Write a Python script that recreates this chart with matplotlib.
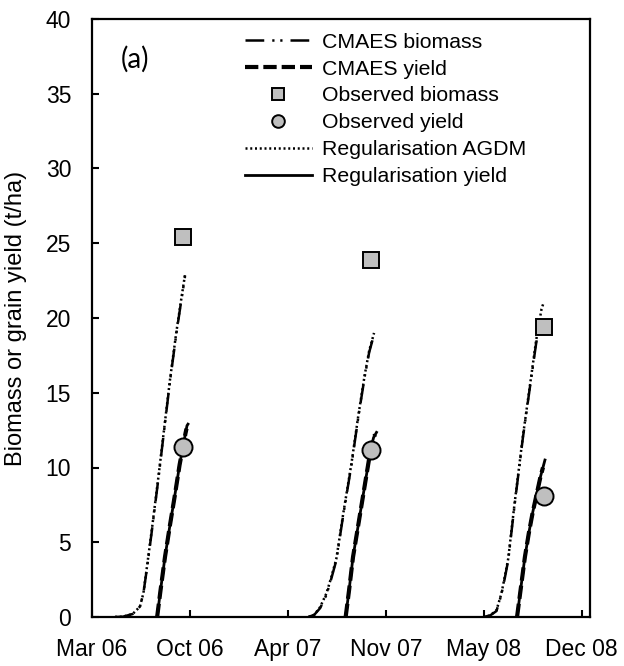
import matplotlib

matplotlib.use("Agg")

import matplotlib.dates as mdates
import matplotlib.pyplot as plt
import numpy as np
import pandas as pd

# values (t/ha)
agdm_dates = [
    "2006-05-04", "2006-05-20", "2006-06-09", "2006-06-24", "2006-07-01", "2006-07-08",
    "2006-07-18", "2006-07-31", "2006-08-12", "2006-08-24", "2006-09-06", "2006-09-16", "2006-09-24",
    "2007-06-03", "2007-06-15", "2007-06-27", "2007-07-10", "2007-07-20", "2007-07-30",
    "2007-08-13", "2007-08-30", "2007-09-13", "2007-09-26", "2007-10-05", "2007-10-15",
    "2008-05-25", "2008-06-08", "2008-06-21", "2008-07-01", "2008-07-08", "2008-07-15",
    "2008-07-28", "2008-08-14", "2008-08-28", "2008-09-10", "2008-09-21", "2008-09-25",
]
agdm_vals = [
    0, 0.02, 0.2, 0.7, 1.6, 3.3, 5.8, 9.2, 12.5, 15.8, 19.0, 21.2, 22.9,
    0, 0.15, 0.67, 1.6, 2.7, 3.9, 6.9, 10.3, 13.5, 16.2, 17.8, 19.0,
    0, 0.1, 0.45, 1.56, 2.7, 3.9, 7.6, 12.1, 15.4, 18.5, 20.6, 21.0,
]

cmaes_bio_dates = agdm_dates[:13] + agdm_dates[13:25] + agdm_dates[25:36]
cmaes_bio_vals = (
    [0, 0.02, 0.2, 0.7, 1.6, 3.2, 5.7, 9.1, 12.4, 15.7, 18.9, 21.1, 22.8]
    + [0, 0.15, 0.6, 1.5, 2.6, 3.8, 6.8, 10.2, 13.4, 16.1, 17.7, 18.9]
    + [0, 0.1, 0.4, 1.5, 2.6, 3.8, 7.5, 12.0, 15.3, 18.3, 20.2]
)

reg_yield_dates = [
    "2006-07-29", "2006-08-05", "2006-08-14", "2006-08-24", "2006-09-03", "2006-09-13",
    "2006-09-20", "2006-09-25", "2006-09-28", "2006-09-30",
    "2007-08-18", "2007-08-25", "2007-09-02", "2007-09-12", "2007-09-22", "2007-10-02",
    "2007-10-08", "2007-10-14", "2007-10-20",
    "2008-08-02", "2008-08-10", "2008-08-18", "2008-08-26", "2008-09-03", "2008-09-11",
    "2008-09-19", "2008-09-28",
]
reg_yield_vals = [
    0, 1.8, 4.0, 6.1, 8.1, 10.2, 11.4, 12.3, 12.8, 12.9,
    0, 1.8, 4.0, 6.0, 8.0, 10.0, 11.2, 12.0, 12.35,
    0, 2.0, 4.0, 5.6, 7.0, 8.2, 9.4, 10.5,
]

cmaes_yield_dates = [
    "2006-07-29", "2006-08-05", "2006-08-14", "2006-08-24", "2006-09-03", "2006-09-13",
    "2006-09-20", "2006-09-25", "2006-09-27",
    "2007-08-18", "2007-08-25", "2007-09-02", "2007-09-12", "2007-09-22", "2007-10-02",
    "2007-10-08", "2007-10-14", "2007-10-17",
    "2008-08-02", "2008-08-10", "2008-08-18", "2008-08-26", "2008-09-03", "2008-09-11",
    "2008-09-19", "2008-09-24",
]
cmaes_yield_vals = [
    0, 1.8, 4.0, 6.1, 8.1, 10.2, 11.4, 12.3, 12.6,
    0, 1.8, 4.0, 6.0, 8.0, 10.0, 11.2, 12.0, 12.2,
    0, 2.0, 4.0, 5.6, 7.0, 8.2, 9.4, 10.0,
]

obs_dates = ["2006-09-20", "2007-10-08", "2008-09-27"]
obs_biomass = [25.4, 23.9, 19.4]
obs_yield = [11.4, 11.2, 8.1]

x_start = pd.Timestamp("2006-03-18")
x_end = x_start + pd.Timedelta(days=1017)
tick_dates = [x_start + pd.Timedelta(days=200 * i) for i in range(6)]

plt.rcParams["font.family"] = ["Liberation Sans", "DejaVu Sans"]
plt.rcParams["font.size"] = 16.5


def seasons(dates, vals):
    """Split a series into separate runs wherever there is a long gap."""
    d = pd.to_datetime(pd.Series(dates))
    v = np.asarray(vals, dtype=float)
    breaks = np.where(d.diff().dt.days.fillna(0).to_numpy() > 60)[0]
    return [(d.iloc[idx].to_numpy(), v[idx]) for idx in np.split(np.arange(len(d)), breaks)]


def draw(dates, vals, zorder, **kw):
    first = None
    for dd, vv in seasons(dates, vals):
        ln, = ax.plot(dd, vv, zorder=zorder, **kw)
        first = first or ln
    return first


fig = plt.figure(figsize=(6.24, 6.66), dpi=100)
ax = fig.add_axes([92 / 624, 49 / 666, 498 / 624, 598 / 666])

h_cbio = draw(cmaes_bio_dates, cmaes_bio_vals, 3, color="black", lw=1.8,
              linestyle=(0, (7.5, 3.2, 0.9, 2.3, 0.9, 3.2)))
h_agdm = draw(agdm_dates, agdm_vals, 3, color="black", lw=1.8, linestyle=(0, (0.8, 1.1)))
h_cyld = draw(cmaes_yield_dates, cmaes_yield_vals, 4, color="black", lw=3.0,
              linestyle=(0, (3.2, 1.2)))
h_ryld = draw(reg_yield_dates, reg_yield_vals, 4, color="black", lw=2.0, linestyle="-")

obs_x = pd.to_datetime(obs_dates)
h_sq, = ax.plot(obs_x, obs_biomass, linestyle="none", marker="s", markersize=12,
                markerfacecolor="#BFBFBF", markeredgecolor="black", markeredgewidth=1.4,
                zorder=5)
h_ci, = ax.plot(obs_x, obs_yield, linestyle="none", marker="o", markersize=13,
                markerfacecolor="#BFBFBF", markeredgecolor="black", markeredgewidth=1.4,
                zorder=5)

ax.set_xlim(x_start, x_end)
ax.set_ylim(0, 40)
ax.set_yticks(np.arange(0, 41, 5))
ax.set_xticks(tick_dates)
ax.xaxis.set_major_formatter(mdates.DateFormatter("%b %y"))
ax.tick_params(direction="in", length=5, width=1.5, labelsize=16.5)
ax.tick_params(axis="x", pad=15)
ax.tick_params(axis="y", pad=15)
for s in ax.spines.values():
    s.set_linewidth(1.6)
ax.set_ylabel("Biomass or grain yield (t/ha)", fontsize=17)
ax.yaxis.set_label_coords(-0.13, 0.5)

ax.legend([h_cbio, h_cyld, h_sq, h_ci, h_agdm, h_ryld],
          ["CMAES biomass", "CMAES yield", "Observed biomass", "Observed yield",
           "Regularisation AGDM", "Regularisation yield"],
          loc="upper left", bbox_to_anchor=(0.307, 0.977), frameon=False, fontsize=15.3,
          handlelength=3.15, handletextpad=0.5, labelspacing=0.37, borderpad=0,
          borderaxespad=0, numpoints=1, markerscale=0.7)

ax.text(0.057, 0.932, "(a)", transform=ax.transAxes, fontsize=20,
        family=["Lato", "DejaVu Sans"], va="center", ha="left")

fig.savefig("out.png", dpi=100)
